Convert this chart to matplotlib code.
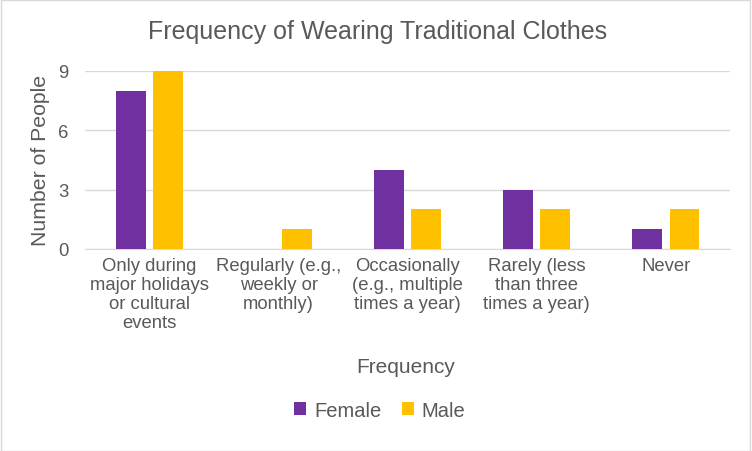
import numpy as np
import matplotlib.pyplot as plt
from matplotlib.patches import Rectangle

plt.rcParams['font.family'] = 'Liberation Sans'

categories = ["Only during\nmajor holidays\nor cultural\nevents",
              "Regularly (e.g.,\nweekly or\nmonthly)",
              "Occasionally\n(e.g., multiple\ntimes a year)",
              "Rarely (less\nthan three\ntimes a year)",
              "Never"]
female = [8, 0, 4, 3, 1]
male = [9, 1, 2, 2, 2]
yticks = [0, 3, 6, 9]

text_color = '#595959'
fig = plt.figure(figsize=(7.52, 4.52), dpi=100)
fig.patches.append(Rectangle((0.001, 0.001), 0.997, 0.997, transform=fig.transFigure,
                             fill=False, edgecolor='#d9d9d9', linewidth=1))
ax = fig.add_axes([0.113, 0.447, 0.858, 0.394])

x = np.arange(len(categories))
w = 0.23
ax.bar(x - 0.145, female, w, color='#7030A0', label='Female', zorder=3)
ax.bar(x + 0.145, male, w, color='#FFC000', label='Male', zorder=3)

ax.set_xlim(-0.5, len(categories) - 0.5)
ax.set_ylim(0, 9)
ax.set_yticks(yticks)
ax.set_xticks(x)
ax.set_xticklabels(categories, fontsize=13.3, color=text_color, linespacing=1.15)
ax.tick_params(axis='y', labelsize=13.3, colors=text_color, length=0, pad=12)
ax.tick_params(axis='x', length=0, pad=6)
ax.grid(axis='y', color='#d9d9d9', linewidth=1, zorder=0)
for s in ['top', 'right', 'left']:
    ax.spines[s].set_visible(False)
ax.spines['bottom'].set_color('#d9d9d9')

ax.set_ylabel('Number of People', fontsize=15.3, color=text_color, labelpad=6)
fig.text(0.54, 0.187, 'Frequency', ha='center', va='center', fontsize=15, color=text_color)
fig.text(0.502, 0.929, 'Frequency of Wearing Traditional Clothes', ha='center', va='center',
         fontsize=18, color=text_color)
fig.legend(loc='center', bbox_to_anchor=(0.505, 0.09), ncol=2, frameon=False,
           fontsize=14.5, labelcolor=text_color, handlelength=0.6, handleheight=0.6,
           columnspacing=1.0, handletextpad=0.4)

fig.savefig('out.png', dpi=100)
